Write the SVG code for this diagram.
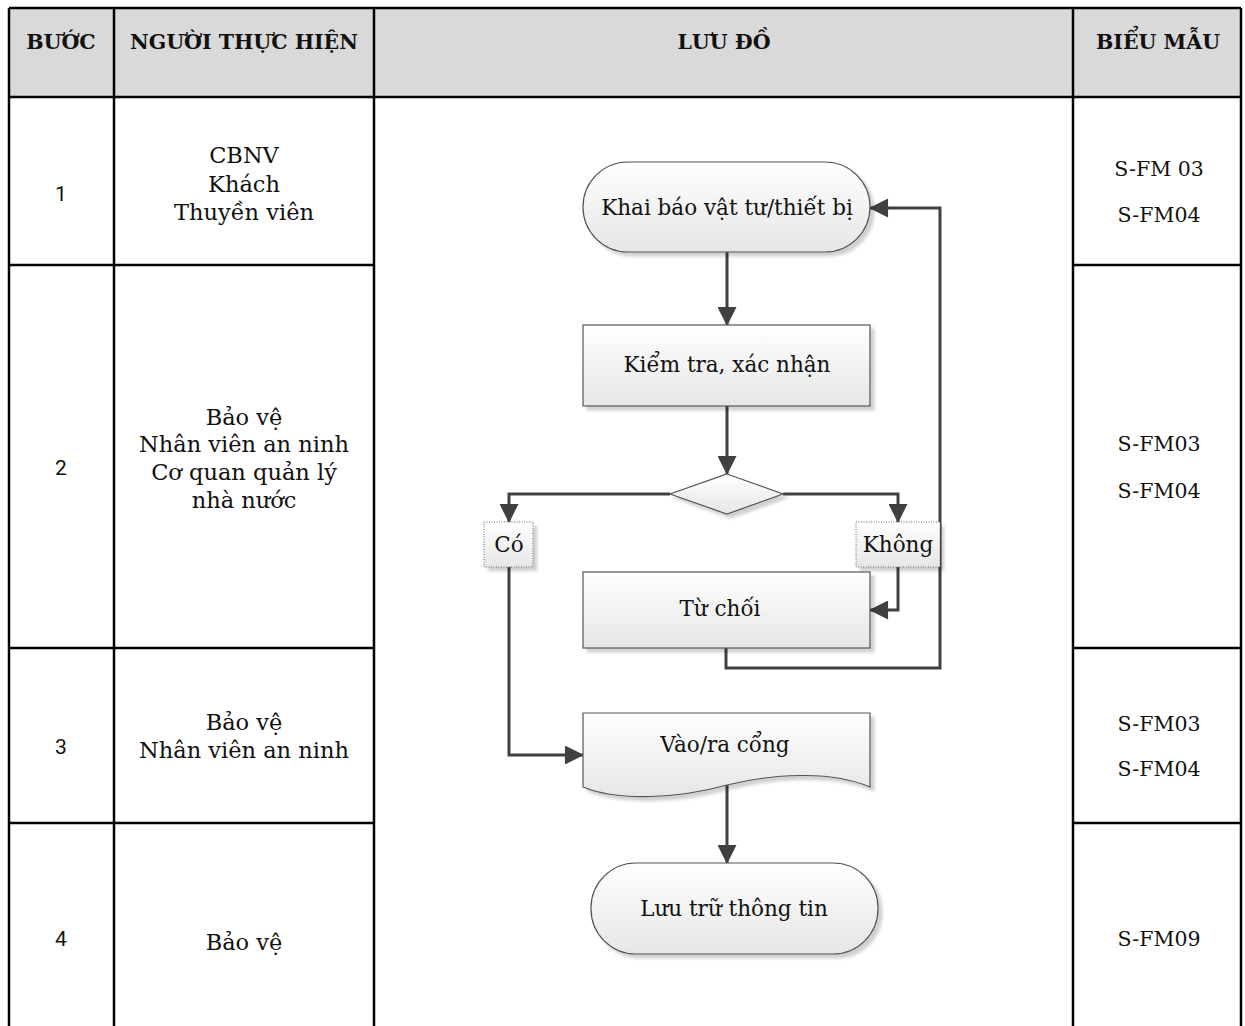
<svg xmlns="http://www.w3.org/2000/svg" width="1245" height="1026" viewBox="0 0 1245 1026">
  <defs>
    <linearGradient id="shapeFill" x1="0" y1="0" x2="0" y2="1">
      <stop offset="0" stop-color="#ffffff"/>
      <stop offset="1" stop-color="#e6e6e6"/>
    </linearGradient>
    <filter id="shadow" x="-10%" y="-10%" width="130%" height="140%">
      <feDropShadow dx="4" dy="4" stdDeviation="1.5" flood-color="#000" flood-opacity="0.18"/>
    </filter>
    <marker id="arrow" viewBox="0 0 20 20" refX="19" refY="10" markerWidth="20" markerHeight="19" markerUnits="userSpaceOnUse" orient="auto">
      <path d="M0,0 L20,10 L0,20 z" fill="#404040"/>
    </marker>
  </defs>
  <style>
    .grid { stroke: #000; stroke-width: 2.5; fill: none; }
    .head { font-family: "DejaVu Serif", "Liberation Serif", serif; font-weight: bold; font-size: 20.5px; fill: #111; text-anchor: middle; }
    .cell { font-family: "DejaVu Serif", "Liberation Serif", serif; font-size: 22.5px; fill: #111; text-anchor: middle; }
    .form { font-family: "DejaVu Serif", "Liberation Serif", serif; font-size: 20.5px; fill: #111; text-anchor: middle; }
    .num { font-family: Roboto, "Liberation Sans", sans-serif; font-size: 21px; fill: #111; text-anchor: middle; }
    .shape { fill: url(#shapeFill); stroke: #555; stroke-width: 1.2; filter: url(#shadow); }
    .label { fill: url(#shapeFill); stroke: #666; stroke-width: 1; stroke-dasharray: 1 1.5; filter: url(#shadow); }
    .txt { font-family: "DejaVu Serif", "Liberation Serif", serif; font-size: 21.5px; fill: #111; text-anchor: middle; }
    .conn { fill: none; stroke: #404040; stroke-width: 3; }
  </style>

  <rect width="1245" height="1026" fill="#fff"/>

  <!-- table: header band and grid lines -->
  <g id="table">
    <rect x="9" y="8" width="1232" height="89" fill="#d9d9d9"/>
    <path class="grid" d="M9,8 H1241 M9,8 V1026 M114,8 V1026 M374,8 V1026 M1073,8 V1026 M1241,8 V1026 M9,97 H1241 M9,265 H374 M1073,265 H1241 M9,648 H374 M1073,648 H1241 M9,823 H374 M1073,823 H1241"/>
    <text class="head" x="61" y="49">BƯỚC</text>
    <text class="head" x="244" y="49">NGƯỜI THỰC HIỆN</text>
    <text class="head" x="724" y="49">LƯU ĐỒ</text>
    <text class="head" x="1158" y="49">BIỂU MẪU</text>
  </g>

  <!-- step numbers -->
  <g id="steps">
    <text class="num" x="61" y="201">1</text>
    <text class="num" x="61" y="475">2</text>
    <text class="num" x="61" y="754">3</text>
    <text class="num" x="61" y="946">4</text>
  </g>

  <!-- performers -->
  <g id="performers">
    <text class="cell" x="244" y="163">CBNV</text>
    <text class="cell" x="244" y="192">Khách</text>
    <text class="cell" x="244" y="220">Thuyền viên</text>
    <text class="cell" x="244" y="425">Bảo vệ</text>
    <text class="cell" x="244" y="452">Nhân viên an ninh</text>
    <text class="cell" x="244" y="480">Cơ quan quản lý</text>
    <text class="cell" x="244" y="508">nhà nước</text>
    <text class="cell" x="244" y="730">Bảo vệ</text>
    <text class="cell" x="244" y="758">Nhân viên an ninh</text>
    <text class="cell" x="244" y="950">Bảo vệ</text>
  </g>

  <!-- forms -->
  <g id="forms">
    <text class="form" x="1159" y="176">S-FM 03</text>
    <text class="form" x="1159" y="222">S-FM04</text>
    <text class="form" x="1159" y="451">S-FM03</text>
    <text class="form" x="1159" y="498">S-FM04</text>
    <text class="form" x="1159" y="731">S-FM03</text>
    <text class="form" x="1159" y="776">S-FM04</text>
    <text class="form" x="1159" y="946">S-FM09</text>
  </g>

  <!-- flowchart connectors -->
  <g id="connectors">
    <path class="conn" d="M727,252 V325" marker-end="url(#arrow)"/>
    <path class="conn" d="M727,406 V474" marker-end="url(#arrow)"/>
    <path class="conn" d="M670,494 H509 V522" marker-end="url(#arrow)"/>
    <path class="conn" d="M783,494 H898 V522" marker-end="url(#arrow)"/>
    <path class="conn" d="M898,567 V610 H870" marker-end="url(#arrow)"/>
    <path class="conn" d="M726,648 V668 H940 V208 H870" marker-end="url(#arrow)"/>
    <path class="conn" d="M509,567 V755 H583" marker-end="url(#arrow)"/>
    <path class="conn" d="M727,785 V863" marker-end="url(#arrow)"/>
  </g>

  <!-- flowchart nodes -->
  <g id="start">
    <rect class="shape" x="583" y="162" width="287" height="90" rx="45" ry="45"/>
    <text class="txt" x="727" y="215">Khai báo vật tư/thiết bị</text>
  </g>
  <g id="check">
    <rect class="shape" x="583" y="325" width="287" height="81"/>
    <text class="txt" x="727" y="372">Kiểm tra, xác nhận</text>
  </g>
  <g id="decision">
    <path class="shape" d="M727,474 L783,494 L727,514 L670,494 Z"/>
  </g>
  <g id="yes">
    <rect class="label" x="484" y="522" width="49" height="45"/>
    <text class="txt" x="509" y="552">Có</text>
  </g>
  <g id="no">
    <rect class="label" x="856" y="522" width="84" height="45"/>
    <text class="txt" x="898" y="552">Không</text>
  </g>
  <g id="reject">
    <rect class="shape" x="583" y="572" width="287" height="76"/>
    <text class="txt" x="720" y="616">Từ chối</text>
  </g>
  <g id="gate">
    <path class="shape" d="M583,713 H870 V787 C835,772 780,772 727,785 C680,798 620,802 583,787 Z"/>
    <text class="txt" x="725" y="752">Vào/ra cổng</text>
  </g>
  <g id="archive">
    <rect class="shape" x="591" y="863" width="287" height="91" rx="45" ry="45"/>
    <text class="txt" x="734" y="916">Lưu trữ thông tin</text>
  </g>
</svg>
